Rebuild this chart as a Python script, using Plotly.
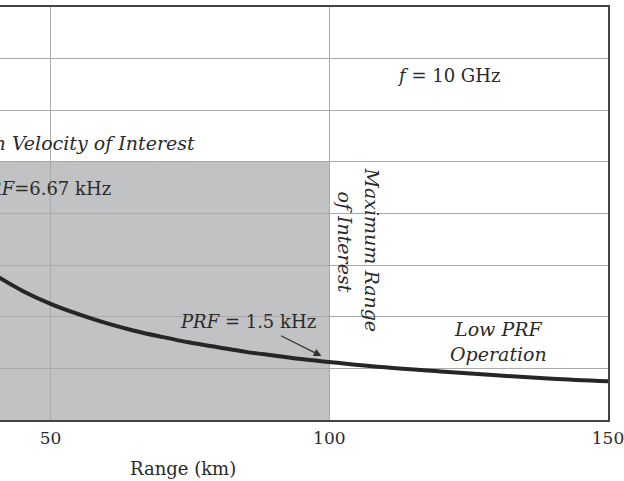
import plotly.graph_objects as go

# Data
range_km = [40, 45, 50, 55, 60, 65, 70, 75, 80, 85, 90, 95, 100, 110, 120, 130, 140, 150]
velocity = [28.1, 25.0, 22.5, 20.5, 18.75, 17.3, 16.1, 15.0, 14.1, 13.2, 12.5, 11.8,
            11.25, 10.2, 9.4, 8.65, 8.0, 7.5]
max_range_km = 100
max_velocity = 50
x_ticks = [50, 100, 150]
y_ticks = [0, 10, 20, 30, 40, 50, 60, 70, 80]

FONT = "DejaVu Serif"
TXT = "#2a2a2a"

fig = go.Figure()

fig.add_trace(go.Scatter(
    x=range_km, y=velocity, mode="lines",
    line=dict(color="#262626", width=4, shape="spline"),
    hoverinfo="skip", showlegend=False,
))

# Shaded region of interest
fig.add_shape(type="rect", xref="x", yref="y", x0=0, x1=max_range_km, y0=0, y1=max_velocity,
              fillcolor="#c1c2c4", line=dict(width=0), layer="below")

ann = [
    dict(x=76.2, y=53.7, text="<i>Maximum Velocity of Interest</i>", xanchor="right", size=19),
    dict(x=61.2, y=44.9, text="<i>PRF</i>=6.67 kHz", xanchor="right", size=18),
    dict(x=121.4, y=66.8, text="<i>f</i> = 10 GHz", xanchor="center", size=18),
    dict(x=85.4, y=19.0, text="<i>PRF</i> = 1.5 kHz", xanchor="center", size=18),
    dict(x=130.4, y=15.3, text="<i>Low PRF<br>Operation</i>", xanchor="center", size=19),
    dict(x=107.6, y=32.9, text="<i>Maximum Range</i>", textangle=90, xanchor="center", size=19),
    dict(x=102.9, y=34.5, text="<i>of Interest</i>", textangle=90, xanchor="center", size=19),
]
for a in ann:
    size = a.pop("size")
    fig.add_annotation(xref="x", yref="y", showarrow=False, yanchor="middle",
                       font=dict(family=FONT, size=size, color=TXT), **a)

# arrow for PRF = 1.5 kHz
fig.add_annotation(xref="x", yref="y", x=98.6, y=12.4, text="", showarrow=True,
                   ax=-42, ay=-21, axref="pixel", ayref="pixel",
                   arrowhead=2, arrowsize=1.2, arrowwidth=1.3, arrowcolor="#333333")

# axis title
fig.add_annotation(xref="paper", yref="paper", x=183/608, y=-48/413, text="Range (km)",
                   showarrow=False, xanchor="center", yanchor="middle",
                   font=dict(family=FONT, size=18, color=TXT))

fig.update_layout(
    width=624, height=481,
    margin=dict(l=0, r=16, t=7, b=61),
    paper_bgcolor="white", plot_bgcolor="white",
    showlegend=False,
    font=dict(family=FONT, size=17, color=TXT),
    xaxis=dict(range=[40.93, 150.001], tickvals=x_ticks, showgrid=True, gridcolor="#a9a9a9", gridwidth=1.3,
               showline=True, linecolor="#444444", linewidth=1.5, mirror=True,
               ticks="", zeroline=False, ticklabeloverflow="allow", ticklabelstandoff=2,
               tickfont=dict(family=FONT, size=17, color=TXT)),
    yaxis=dict(range=[0, 80], tickvals=y_ticks, showgrid=True, gridcolor="#a9a9a9", gridwidth=1.3,
               showline=True, linecolor="#444444", linewidth=1.5, side="right",
               showticklabels=False, ticks="", zeroline=False),
)

fig.write_html("out.html", config={"displayModeBar": False},
               post_script="document.body.style.margin='0';document.body.style.overflow='hidden';")
